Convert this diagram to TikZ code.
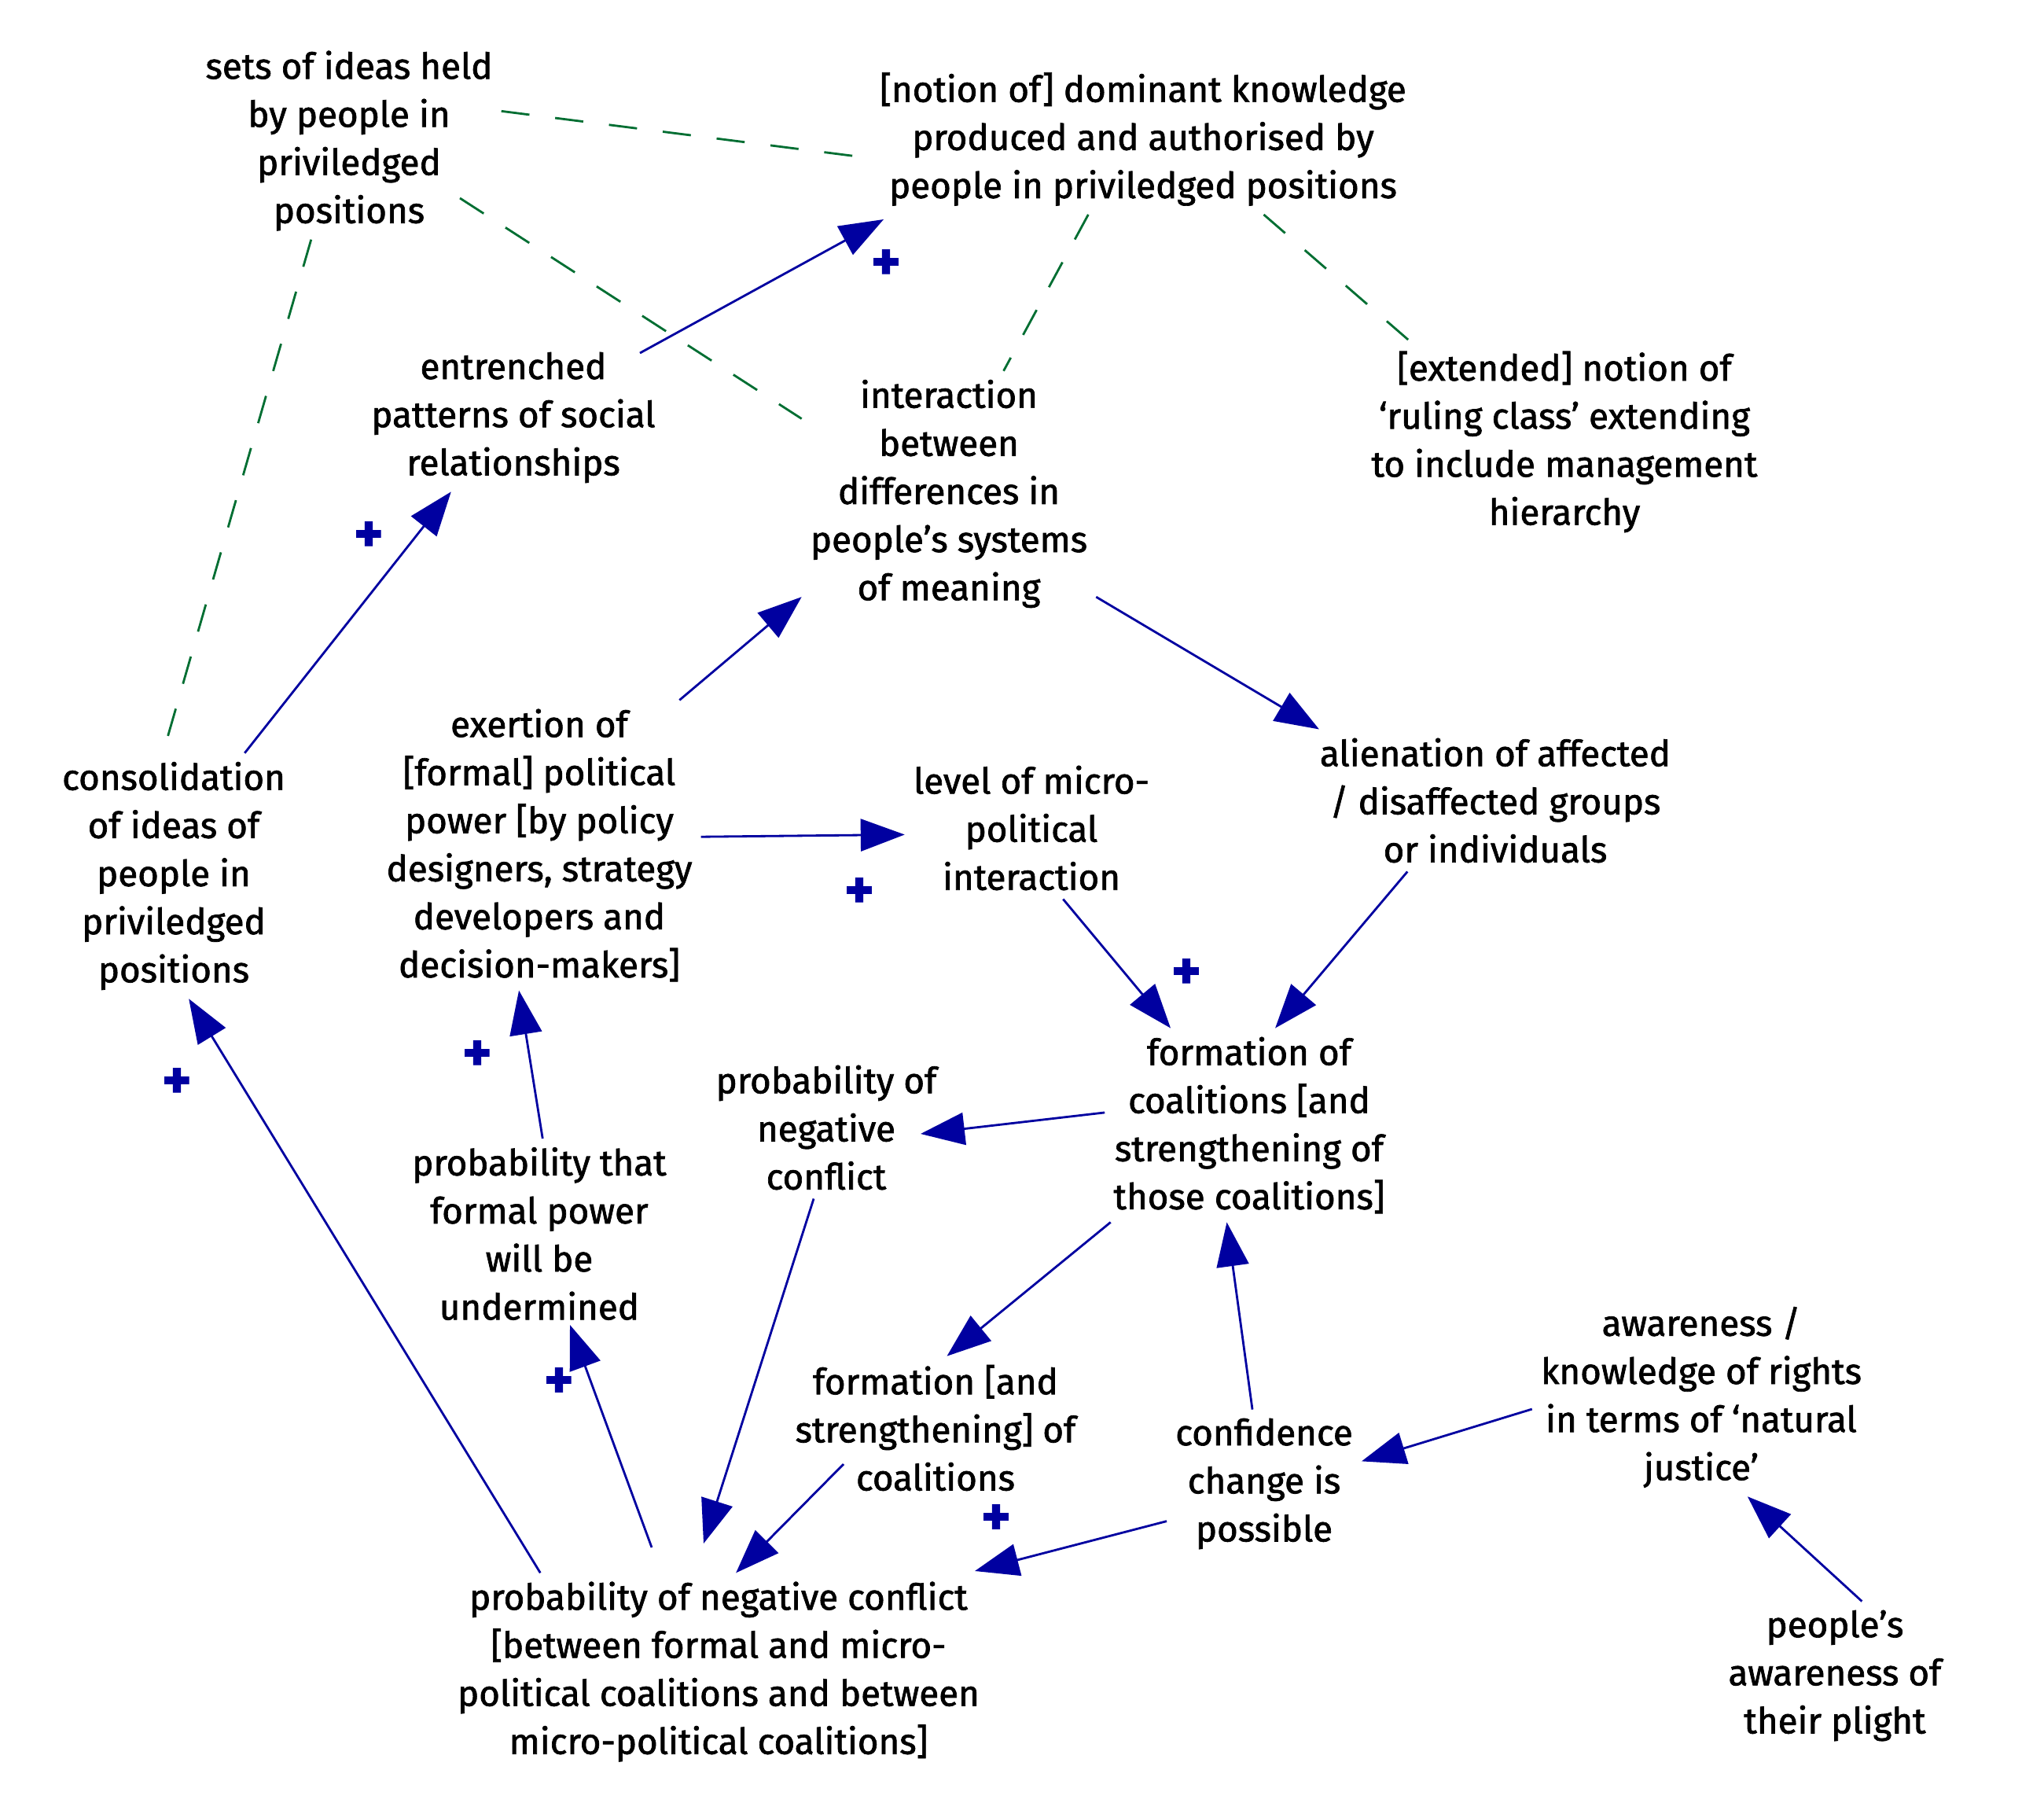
\documentclass[tikz,border=0pt]{standalone}
\usepackage{fontspec}
\setmainfont{Fira Sans}[FakeBold=1.5]
\usetikzlibrary{arrows.meta}

\definecolor{linkblue}{RGB}{0,0,160}
\definecolor{assocgreen}{RGB}{0,110,50}

\tikzset{
  var/.style={align=center,inner sep=3pt,font=\fontsize{13}{17.4}\selectfont},
  link/.style={linkblue,line width=0.8pt,-{Triangle[length=0.56cm,width=0.41cm]}},
  assoc/.style={assocgreen,line width=0.8pt,dash pattern=on 0.36cm off 0.33cm},
  pol/.style={linkblue,inner sep=0pt,font=\fontsize{20}{20}\selectfont\bfseries}
}

\begin{document}
\begin{tikzpicture}
  \fill[white] (0,0) rectangle (26,-23.07);
  \useasboundingbox (0,0) rectangle (26,-23.07);

  % variables
  \node[var] (sets) at (4.44,-1.79) {sets of ideas held\\by people in\\priviledged\\positions};
  \node[var] (dom) at (14.54,-1.77) {[notion of] dominant knowledge\\produced and authorised by\\people in priviledged positions};
  \node[var] (entr) at (6.53,-5.31) {entrenched\\patterns of social\\relationships};
  \node[var] (inter) at (12.07,-6.28) {interaction\\between\\differences in\\people's systems\\of meaning};
  \node[var] (ext) at (19.90,-5.62) {[extended] notion of\\`ruling class' extending\\to include management\\hierarchy};
  \node[var] (exer) at (6.86,-10.75) {exertion of\\{}[formal] political\\power [by policy\\designers, strategy\\developers and\\decision-makers]};
  \node[var] (level) at (13.12,-10.53) {level of micro-\\political\\interaction};
  \node[var] (alien) at (19.02,-10.18) {alienation of affected\\/ disaffected groups\\or individuals};
  \node[var] (cons) at (2.21,-11.14) {consolidation\\of ideas of\\people in\\priviledged\\positions};
  \node[var] (fcoal) at (15.89,-14.31) {formation of\\coalitions [and\\strengthening of\\those coalitions]};
  \node[var] (psmall) at (10.51,-14.34) {probability of\\negative\\conflict};
  \node[var] (pformal) at (6.86,-15.69) {probability that\\formal power\\will be\\undermined};
  \node[var] (fand) at (11.90,-18.16) {formation [and\\strengthening] of\\coalitions};
  \node[var] (conf) at (16.08,-18.87) {confidence\\change is\\possible};
  \node[var] (aware) at (21.64,-17.77) {awareness /\\knowledge of rights\\in terms of `natural\\justice'};
  \node[var] (peop) at (23.34,-21.31) {people's\\awareness of\\their plight};
  \node[var] (pmain) at (9.14,-21.26) {probability of negative conflict\\{}[between formal and micro-\\political coalitions and between\\micro-political coalitions]};

  % causal links
  \draw[link] ([shift={(1.61,0.82)}]entr.center) -- ([shift={(-3.30,-1.02)}]dom.center);
  \draw[link] (cons.60) -- (entr.230);
  \draw[link] (exer.46) -- (inter.215);
  \draw[link] (inter.-35) -- (alien.158);
  \draw[link] (exer.3) -- (level.183);
  \draw[link] (level.-66) -- (fcoal.129);
  \draw[link] (alien.219) -- (fcoal.75);
  \draw[link] (fcoal.175) -- ([shift={(1.20,-0.08)}]psmall.center);
  \draw[link] (fcoal.215) -- (fand.81);
  \draw[link] (conf.99) -- (fcoal.257);
  \draw[link] (aware.184) -- (conf.13);
  \draw[link] (peop.70) -- (aware.-65);
  \draw[link] (psmall.260) -- ([shift={(-0.19,1.63)}]pmain.center);
  \draw[link] ([shift={(-1.17,-0.46)}]fand.center) -- (pmain.80);
  \draw[link] (conf.201) -- ([shift={(3.26,1.28)}]pmain.center);
  \draw[link] ([shift={(-0.85,1.58)}]pmain.center) -- ([shift={(0.39,-1.16)}]pformal.center);
  \draw[link] (pformal.88) -- (exer.262);
  \draw[link] (pmain.151) -- (cons.-83);

  % associations
  \draw[assoc] (sets.11) -- (dom.184);
  \draw[assoc] ([shift={(1.41,-0.73)}]sets.center) -- (inter.153);
  \draw[assoc] (sets.249) -- (cons.95);
  \draw[assoc] (dom.234) -- (inter.66);
  \draw[assoc] (dom.-32) -- (ext.147);

  % polarities
  \node[pol] (p1) at (11.27,-3.37) {+};
  \node[pol] (p2) at (4.69,-6.83) {+};
  \node[pol] (p3) at (10.93,-11.36) {+};
  \node[pol] (p4) at (15.09,-12.39) {+};
  \node[pol] (p5) at (2.25,-13.78) {+};
  \node[pol] (p6) at (6.07,-13.43) {+};
  \node[pol] (p7) at (7.11,-17.59) {+};
  \node[pol] (p8) at (12.67,-19.33) {+};
\end{tikzpicture}
\end{document}
